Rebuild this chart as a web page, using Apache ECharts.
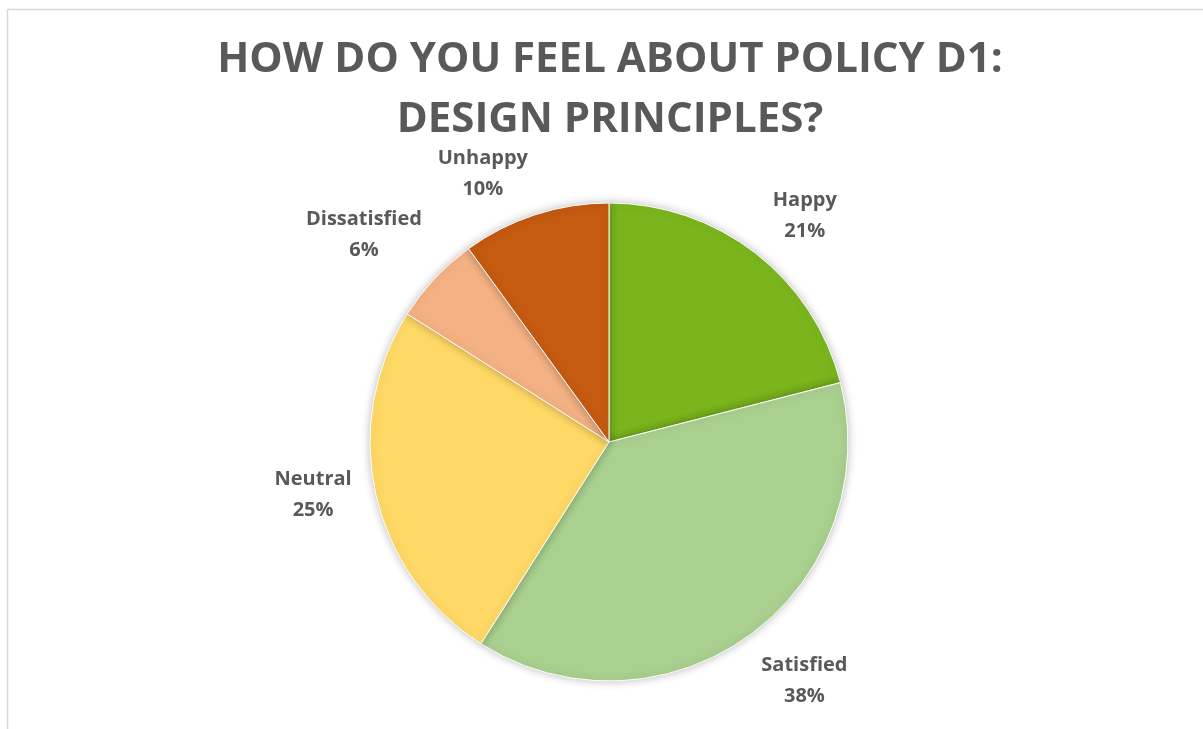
<!DOCTYPE html>
<html>
<head>
<meta charset="utf-8">
<title>Policy D1 survey</title>
<script src="https://cdn.jsdelivr.net/npm/echarts@6/dist/echarts.min.js"></script>
<style>
  html, body { margin: 0; padding: 0; background: #ffffff; }
  #chart { width: 1203px; height: 729px; }
</style>
</head>
<body>
<div id="chart"></div>
<script>
// Survey responses, clockwise from 12 o'clock
const categories = ['Happy', 'Satisfied', 'Neutral', 'Dissatisfied', 'Unhappy'];
const shares = [21, 38, 25, 6, 10];
const sliceColors = ['#7ab51d', '#a9d08e', '#ffd966', '#f4b183', '#c55a11'];
const titleText = 'HOW DO YOU FEEL ABOUT POLICY D1:\nDESIGN PRINCIPLES?';

// Small "best fit" nudges for the outside labels, keyed by category
const labelNudge = {
  Happy: [10, 7],
  Satisfied: [17, 0],
  Neutral: [-3, -12],
  Dissatisfied: [-25, -5],
  Unhappy: [-30, 12]
};

const chart = echarts.init(document.getElementById('chart'), null, { renderer: 'canvas' });

const data = categories.map((name, i) => ({
  name: name,
  value: shares[i],
  itemStyle: { color: sliceColors[i] }
}));

chart.setOption({
  animation: false,
  backgroundColor: '#ffffff',
  title: {
    text: titleText,
    left: 605,
    top: 25,
    textAlign: 'center',
    textStyle: {
      fontFamily: 'Open Sans',
      fontWeight: 'bold',
      fontSize: 42,
      lineHeight: 60,
      color: '#595959'
    }
  },
  graphic: [
    { type: 'line', shape: { x1: 7.5, y1: 9.5, x2: 1203, y2: 9.5 }, style: { stroke: '#d9d9d9', lineWidth: 1.5 } },
    { type: 'line', shape: { x1: 7.5, y1: 9.5, x2: 7.5, y2: 729 }, style: { stroke: '#d9d9d9', lineWidth: 1.5 } }
  ],
  series: [{
    type: 'pie',
    center: [609, 442],
    radius: 239,
    startAngle: 90,
    clockwise: true,
    avoidLabelOverlap: false,
    data: data,
    itemStyle: {
      borderColor: '#ffffff',
      borderWidth: 1,
      shadowBlur: 8,
      shadowColor: 'rgba(0,0,0,0.25)'
    },
    label: {
      show: true,
      position: 'outside',
      formatter: '{b}\n{d}%',
      fontFamily: 'Open Sans',
      fontWeight: 'bold',
      fontSize: 20,
      lineHeight: 31,
      color: '#595959'
    },
    labelLine: { show: false, length: 56, length2: 0 },
    labelLayout: function (params) {
      const n = labelNudge[categories[params.dataIndex]] || [0, 0];
      return { align: 'center', verticalAlign: 'middle', dx: n[0], dy: n[1] };
    },
    emphasis: { disabled: true }
  }]
});
</script>
</body>
</html>
